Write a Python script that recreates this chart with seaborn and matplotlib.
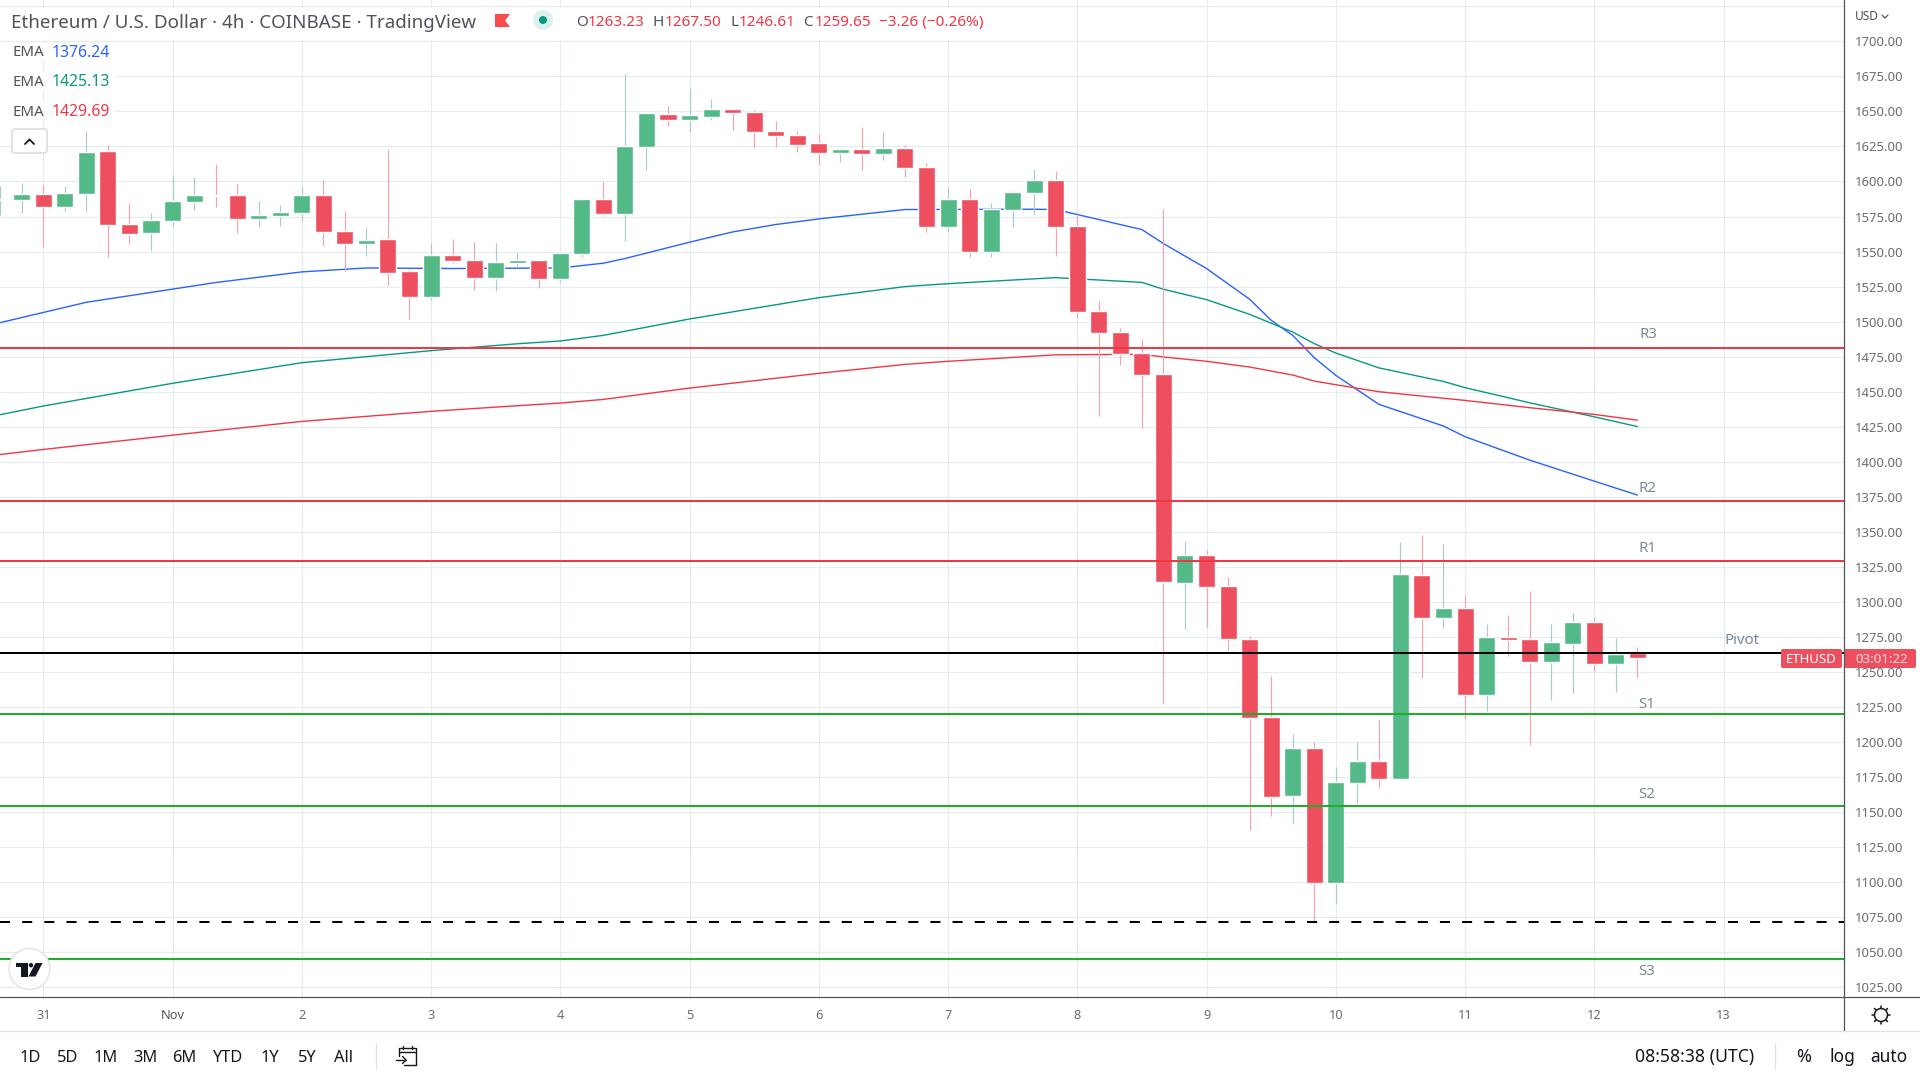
import matplotlib
matplotlib.use("Agg")
import matplotlib.pyplot as plt
import seaborn as sns
from matplotlib.patches import Circle, FancyBboxPatch, Polygon, Rectangle

# one candle per 4h, index 0 is 31 Oct 00:00
candle_idx = list(range(-2, 75))
opens = [1586.7, 1586.7, 1591.0, 1581.7, 1591.0, 1621.7, 1569.5, 1563.1, 1571.7, 1585.2, 1590.2, 1590.2, 1573.1, 1575.2, 1577.4,
         1590.2, 1564.5, 1555.2, 1558.8, 1535.9, 1517.4, 1547.4, 1543.8, 1531.0, 1541.7, 1543.8, 1530.2, 1548.1, 1587.4, 1576.7,
         1624.5, 1648.1, 1643.8, 1646.0, 1651.7, 1649.5, 1636.0, 1633.1, 1627.4, 1620.2, 1623.1, 1619.5, 1623.8, 1610.2, 1567.4,
         1587.4, 1549.5, 1579.5, 1591.7, 1601.0, 1568.1, 1507.4, 1492.4, 1477.4, 1462.4, 1313.8, 1333.8, 1311.6, 1273.8, 1218.1,
         1161.7, 1196.0, 1099.5, 1171.0, 1186.7, 1173.8, 1319.5, 1288.8, 1296.0, 1233.8, 1275.2, 1273.8, 1257.4, 1270.2, 1286.0,
         1256.0, 1263.23]
closes = [1587.4, 1591.0, 1581.7, 1591.7, 1621.0, 1568.8, 1562.4, 1572.4, 1586.0, 1590.2, 1589.5, 1573.1, 1576.0, 1578.1, 1590.2,
          1563.8, 1555.2, 1558.1, 1534.5, 1517.4, 1547.4, 1543.1, 1531.0, 1542.4, 1543.8, 1530.2, 1548.8, 1587.4, 1576.7, 1625.2,
          1648.8, 1643.8, 1647.4, 1651.7, 1648.8, 1635.2, 1632.4, 1626.0, 1620.2, 1623.1, 1619.5, 1623.8, 1609.5, 1567.4, 1587.4,
          1549.5, 1580.2, 1592.4, 1601.0, 1567.4, 1506.7, 1491.7, 1476.7, 1461.7, 1314.5, 1333.8, 1310.9, 1273.8, 1217.4, 1161.0,
          1196.0, 1099.5, 1171.7, 1186.7, 1173.8, 1320.2, 1288.8, 1296.0, 1233.8, 1275.2, 1273.1, 1257.4, 1271.7, 1286.0, 1256.0,
          1263.1, 1259.65]
highs = [1596.7, 1598.8, 1597.4, 1596.7, 1636.0, 1626.0, 1584.5, 1577.4, 1604.5, 1603.1, 1612.4, 1598.1, 1586.0, 1583.1, 1596.0,
         1601.0, 1578.8, 1567.4, 1622.4, 1537.4, 1556.0, 1558.8, 1556.7, 1556.0, 1548.8, 1544.5, 1548.8, 1588.1, 1599.5, 1676.7,
         1648.8, 1653.8, 1666.7, 1658.8, 1652.4, 1651.0, 1643.1, 1636.0, 1633.8, 1623.8, 1638.8, 1635.2, 1626.0, 1613.1, 1595.2,
         1594.5, 1584.5, 1593.1, 1608.8, 1607.4, 1576.7, 1514.5, 1495.2, 1487.4, 1580.2, 1343.8, 1337.4, 1318.1, 1276.0, 1247.4,
         1206.0, 1200.2, 1182.4, 1200.2, 1216.0, 1343.1, 1348.1, 1341.0, 1305.2, 1284.5, 1291.0, 1308.1, 1284.5, 1292.4, 1289.5,
         1274.5, 1267.50]
lows = [1576.0, 1577.4, 1553.1, 1578.8, 1578.1, 1546.0, 1555.2, 1550.2, 1568.1, 1579.5, 1581.7, 1563.1, 1567.4, 1568.1, 1571.7,
        1553.8, 1535.9, 1546.7, 1525.2, 1501.7, 1515.2, 1541.7, 1522.4, 1521.7, 1538.8, 1523.8, 1528.1, 1546.0, 1575.2, 1557.4,
        1608.1, 1639.5, 1635.2, 1643.8, 1636.7, 1623.8, 1624.5, 1621.0, 1611.7, 1613.8, 1608.1, 1615.2, 1603.1, 1563.8, 1563.8,
        1546.0, 1546.0, 1567.4, 1576.7, 1546.7, 1502.4, 1432.4, 1468.8, 1423.8, 1227.0, 1281.0, 1282.4, 1266.0, 1137.4, 1147.4,
        1142.4, 1071.7, 1084.5, 1156.7, 1167.4, 1173.1, 1246.0, 1281.7, 1216.7, 1222.4, 1261.7, 1198.1, 1230.2, 1235.2, 1251.0,
        1236.0, 1246.61]

blue_x = [-2, 2, 8, 12, 15, 19, 24, 26, 27, 30, 32, 34, 36, 40, 46, 47, 51, 52, 54, 56, 57, 58, 59, 60, 62, 65, 66, 69, 72, 74]
blue_y = [1499.3, 1513.8, 1527.9, 1535.5, 1538.3, 1537.9, 1538.3, 1541.7, 1545.0, 1556.7, 1564.0, 1569.3, 1573.3, 1580.0, 1580.2,
          1580.0, 1565.7, 1555.7, 1537.9, 1516.0, 1501.0, 1490.2, 1474.3, 1461.7, 1441.0, 1425.5, 1417.9, 1401.2, 1386.2, 1376.24]
teal_x = [-2, 0, 6, 12, 18, 22, 24, 26, 30, 36, 40, 42, 47, 51, 52, 54, 56, 58, 59, 60, 62, 65, 66, 69, 72, 74]
teal_y = [1433.6, 1439.8, 1456.0, 1470.7, 1479.3, 1484.2, 1486.2, 1490.2, 1501.9, 1517.1, 1525.0, 1527.1, 1531.4, 1528.0, 1523.1,
          1515.7, 1505.2, 1492.6, 1484.3, 1477.6, 1467.0, 1457.3, 1452.9, 1442.1, 1432.1, 1425.13]
red_x = [-2, 0, 6, 12, 18, 22, 24, 26, 30, 36, 40, 42, 47, 51, 52, 54, 56, 58, 59, 60, 62, 66, 69, 72, 74]
red_y = [1405.2, 1408.8, 1419.0, 1428.8, 1436.0, 1440.0, 1441.9, 1444.5, 1452.6, 1463.1, 1469.5, 1471.7, 1476.3, 1476.7, 1474.8,
         1471.7, 1467.6, 1461.9, 1457.6, 1455.0, 1450.0, 1443.8, 1438.6, 1433.8, 1429.69]

red_levels = [1481.0, 1371.7, 1329.5]
green_levels = [1220.2, 1154.5, 1045.2]
pivot = 1263.8
dashed_low = 1071.7
level_labels = ["R3", "R2", "R1", "Pivot", "S1", "S2", "S3"]

day_pos = [0, 6, 12, 18, 24, 30, 36, 42, 48, 54, 60, 66, 72, 78]
day_labels = ["31", "Nov", "2", "3", "4", "5", "6", "7", "8", "9", "10", "11", "12", "13"]
price_ticks = list(range(1025, 1726, 25))
ranges = ["1D", "5D", "1M", "3M", "6M", "YTD", "1Y", "5Y", "All"]

UP = "#53B987"
DOWN = "#EE4F5F"
UP_WICK = "#A8CCCB"
DOWN_WICK = "#F6A2AC"
GRID = "#E3ECF2"
AXIS = "#50535E"
LABEL = "#6A6D78"
SLATE = "#7B8A9A"
DARK = "#131722"
RED = "#F23645"


def main():
    sns.set_theme(style="white")
    plt.rcParams["font.family"] = ["Noto Sans", "DejaVu Sans"]
    fig = plt.figure(figsize=(19.2, 10.8), dpi=100, facecolor="white")
    ax = fig.add_axes([0, 83 / 1080, 1843.5 / 1920, 997 / 1080])
    ax.set_xlim(-2.01, 83.57)
    ax.set_ylim(1018.1, 1729.5)
    ax.set_xticks(day_pos)
    ax.set_xticklabels(day_labels)
    ax.set_yticks(price_ticks)
    ax.set_yticklabels([f"{p:.2f}" if p < 1725 else "" for p in price_ticks])
    ax.yaxis.tick_right()
    ax.tick_params(axis="y", length=0, pad=8.5, labelsize=9.4, labelcolor=LABEL)
    ax.tick_params(axis="x", length=0, pad=8.3, labelsize=9.2, labelcolor=LABEL)
    ax.get_xticklabels()[1].set_color(AXIS)
    ax.get_xticklabels()[1].set_fontweight("bold")
    ax.grid(True, color=GRID, lw=0.8)
    ax.set_axisbelow(True)
    for s in ax.spines.values():
        s.set_visible(False)

    sns.lineplot(x=blue_x, y=blue_y, ax=ax, color="#2962FF", lw=1.0, estimator=None, sort=False, zorder=2)
    sns.lineplot(x=teal_x, y=teal_y, ax=ax, color="#089981", lw=1.0, estimator=None, sort=False, zorder=2)
    sns.lineplot(x=red_x, y=red_y, ax=ax, color=RED, lw=1.0, estimator=None, sort=False, zorder=2)

    up = [c >= o for o, c in zip(opens, closes)]
    ax.vlines(candle_idx, lows, highs, colors=[UP_WICK if u else DOWN_WICK for u in up], lw=0.85, zorder=3)
    ax.bar(candle_idx, [abs(c - o) for o, c in zip(opens, closes)], bottom=[min(o, c) for o, c in zip(opens, closes)],
           width=0.79, color=[UP if u else DOWN for u in up], zorder=4)

    for lv in red_levels:
        ax.axhline(lv, color=RED, lw=1.45, zorder=5)
    for lv in green_levels:
        ax.axhline(lv, color="#1FAD2C", lw=1.45, zorder=5)
    ax.axhline(pivot, color="black", lw=1.45, zorder=5)
    ax.axhline(dashed_low, color="black", lw=1.45, ls=(0, (5, 6)), zorder=5)

    # everything around the plot is placed in screen pixels on a top layer
    ov = fig.add_axes([0, 0, 1, 1], facecolor="none")
    ov.set_xlim(0, 1920)
    ov.set_ylim(1080, 0)
    ov.axis("off")
    ov.plot([1843.5, 1843.5], [0, 1031], color=AXIS, lw=0.9)
    ov.plot([0, 1920], [997, 997], color=AXIS, lw=0.9)
    ov.plot([0, 1920], [1031, 1031], color="#E0E3EB", lw=1.0)

    # header
    ov.add_patch(Rectangle((0, 8), 1000, 32, color="white", lw=0))
    ov.add_patch(Rectangle((0, 43), 115, 17, color="white", lw=0))
    ov.add_patch(Rectangle((0, 72), 115, 18, color="white", lw=0))
    ov.add_patch(Rectangle((0, 102), 115, 18, color="white", lw=0))
    ov.text(11, 22.5, "Ethereum / U.S. Dollar · 4h · COINBASE · TradingView", fontsize=13.5, color=AXIS, va="center")
    ov.add_patch(Polygon([(495, 14), (510, 14), (505, 20.5), (510, 27), (495, 27)], color="#FB4C4C", lw=0))
    ov.add_patch(Circle((543, 20), 10, color="#DDF1EE", lw=0))
    ov.add_patch(Circle((543, 20), 4, color="#089981", lw=0))
    ohlc = [(576, "O", AXIS), (588, "1263.23", RED), (653, "H", AXIS), (665, "1267.50", RED), (730, "L", AXIS),
            (739, "1246.61", RED), (803, "C", AXIS), (815, "1259.65", RED), (879, "−3.26 (−0.26%)", RED)]
    for x, txt, col in ohlc:
        ov.text(x, 22.5, txt, fontsize=11, color=col, va="center")
    ema_rows = [(53, "1376.24", "#2962FF"), (82.5, "1425.13", "#089981"), (112, "1429.69", RED)]
    for y, val, col in ema_rows:
        ov.text(12, y, "EMA", fontsize=10.8, color=AXIS, va="center")
        ov.text(52, y, val, fontsize=11.3, color=col, va="center")

    # collapse button
    ov.add_patch(FancyBboxPatch((12, 129), 35, 24, boxstyle="round,pad=0,rounding_size=3", fc="white", ec="#D6D8E0", lw=1))
    ov.plot([25, 29.5, 34], [144, 139.5, 144], color=DARK, lw=1.3)

    # level names
    label_pos = [(1648, 335), (1648, 488.5), (1648, 548.5), (1742.5, 640), (1647, 705), (1647, 794.5), (1647, 971.5)]
    for name, (x, y) in zip(level_labels, label_pos):
        ov.text(x, y, name, fontsize=10.8, color=SLATE, ha="center", va="center")

    # last price tags
    ov.add_patch(FancyBboxPatch((1781, 649), 61, 19, boxstyle="round,pad=0,rounding_size=2", fc=DOWN, ec="none"))
    ov.add_patch(FancyBboxPatch((1844, 649), 72, 19, boxstyle="round,pad=0,rounding_size=2", fc=DOWN, ec="none"))
    ov.text(1811, 659.5, "ETHUSD", fontsize=9.5, color="white", ha="center", va="center", fontweight="medium")
    ov.text(1881.5, 659.5, "03:01:22", fontsize=9.5, color="#FBDDE0", ha="center", va="center")

    # USD selector and settings icon
    ov.text(1855, 16, "USD", fontsize=8.6, color=AXIS, va="center")
    ov.plot([1882, 1885, 1888], [15, 18, 15], color=AXIS, lw=0.9)
    ov.add_patch(Circle((1881, 1015), 6.5, fc="white", ec=DARK, lw=1.1))
    for dx, dy in [(0, -9), (0, 9), (-9, 0), (9, 0), (-6.5, -6.5), (6.5, -6.5), (-6.5, 6.5), (6.5, 6.5)]:
        ov.plot([1881 + dx * 0.8, 1881 + dx], [1015 + dy * 0.8, 1015 + dy], color=DARK, lw=1.1)

    # TV logo
    ov.add_patch(Circle((29.4, 969), 20.5, fc="white", ec="#E4E6EB", lw=1.2))
    ov.add_patch(Polygon([(16, 963), (27.5, 963), (27.5, 976.5), (21, 976.5), (21, 967), (16, 967)], color=DARK, lw=0))
    ov.add_patch(Circle((31, 965.2), 2.2, color=DARK, lw=0))
    ov.add_patch(Polygon([(35.5, 963), (42.5, 963), (35.5, 976.5), (28.5, 976.5)], color=DARK, lw=0))

    # bottom toolbar
    range_x = [30, 68, 106, 145, 184, 227, 270, 307, 344]
    for x, txt in zip(range_x, ranges):
        ov.text(x, 1057.5, txt, fontsize=11.8, color=DARK, ha="center", va="center")
    ov.plot([375.5, 375.5], [1043, 1069], color="#E0E3EB", lw=1)
    ov.plot([1774.5, 1774.5], [1043, 1069], color="#E0E3EB", lw=1)
    ov.plot([399, 399, 416, 416, 404], [1056, 1048, 1048, 1065, 1065], color=DARK, lw=1)
    ov.plot([399, 416], [1051.5, 1051.5], color=DARK, lw=1)
    ov.plot([403, 403], [1045.5, 1049], color=DARK, lw=1)
    ov.plot([412, 412], [1045.5, 1049], color=DARK, lw=1)
    ov.plot([396, 406], [1060, 1060], color=DARK, lw=1)
    ov.plot([402.5, 406, 402.5], [1056.5, 1060, 1063.5], color=DARK, lw=1)
    ov.text(1695, 1057, "08:58:38 (UTC)", fontsize=12.7, color=DARK, ha="center", va="center")
    ov.text(1804, 1057, "%", fontsize=13, color=DARK, ha="center", va="center")
    ov.text(1842, 1057, "log", fontsize=12.5, color=DARK, ha="center", va="center")
    ov.text(1889, 1057, "auto", fontsize=12.5, color=DARK, ha="center", va="center")

    fig.savefig("out.png", dpi=100)
    plt.close(fig)


if __name__ == '__main__':
    main()
